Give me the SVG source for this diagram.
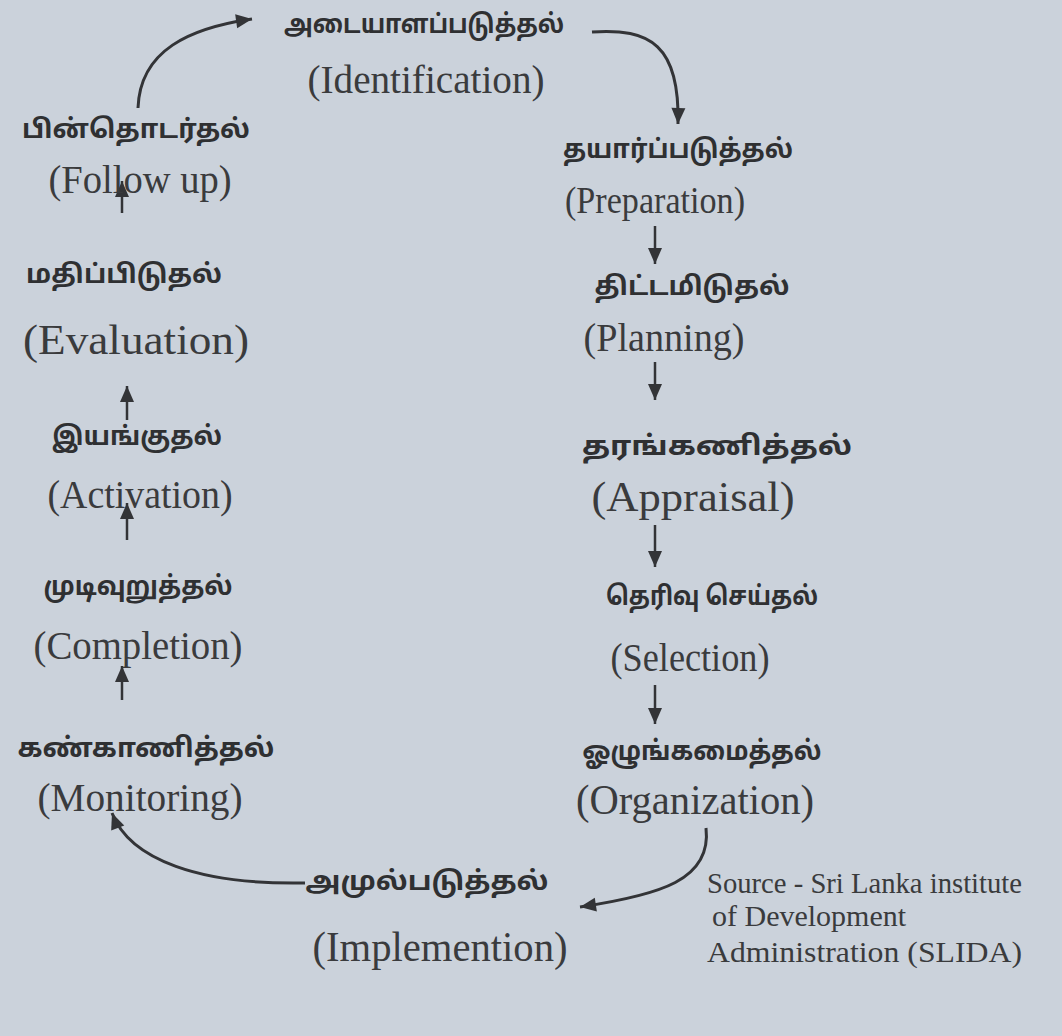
<svg xmlns="http://www.w3.org/2000/svg" width="1062" height="1036" viewBox="0 0 1062 1036">
<style>
.ta{font-family:"Noto Sans Tamil","Noto Sans","Liberation Sans",sans-serif;font-weight:bold;fill:#2f3032;text-anchor:middle}
.en{font-family:"Liberation Serif","Times New Roman",serif;fill:#3a3b3d;text-anchor:middle}
.src{font-family:"Liberation Serif","Times New Roman",serif;fill:#3a3b3d;font-size:30px}
.arr{stroke:#333437;stroke-width:2.5;fill:none;marker-end:url(#ah)}
.crv{stroke:#333437;stroke-width:3;fill:none;marker-end:url(#ah)}
</style>
<defs>
<marker id="ah" markerUnits="userSpaceOnUse" markerWidth="20" markerHeight="20" viewBox="0 0 20 20" refX="18" refY="10" orient="auto">
<path d="M2,3 L18,10 L2,17 Z" fill="#333437"/>
</marker>
</defs>
<rect width="1062" height="1036" fill="#cbd2db"/>
<g id="connectors">
<path class="crv" d="M138,108 C140,50 190,28 252,19"/>
<path class="crv" d="M592,32 C650,28 680,45 678,124"/>
<path class="arr" d="M655,226 L655,264"/>
<path class="arr" d="M655,362 L655,400"/>
<path class="arr" d="M655,525 L655,567"/>
<path class="arr" d="M655,685 L655,724"/>
<path class="crv" d="M706,828 C712,880 660,895 580,907"/>
<path class="crv" d="M305,883 C200,885 130,860 112,813"/>
<path class="arr" d="M122,700 L122,666"/>
<path class="arr" d="M127,540 L127,503"/>
<path class="arr" d="M127,420 L127,386"/>
<path class="arr" d="M122,213 L122,181"/>
</g>
<g id="identification">
<text class="ta" x="424" y="33" font-size="26" textLength="280" lengthAdjust="spacingAndGlyphs">அடையாளப்படுத்தல்</text>
<text class="en" x="426" y="93" font-size="40" textLength="237" lengthAdjust="spacingAndGlyphs">(Identification)</text>
</g>
<g id="preparation">
<text class="ta" x="678" y="158" font-size="26" textLength="230" lengthAdjust="spacingAndGlyphs">தயார்ப்படுத்தல்</text>
<text class="en" x="655" y="213" font-size="37" textLength="180" lengthAdjust="spacingAndGlyphs">(Preparation)</text>
</g>
<g id="planning">
<text class="ta" x="692" y="295" font-size="26" textLength="195" lengthAdjust="spacingAndGlyphs">திட்டமிடுதல்</text>
<text class="en" x="664" y="351" font-size="39" textLength="161" lengthAdjust="spacingAndGlyphs">(Planning)</text>
</g>
<g id="appraisal">
<text class="ta" x="717" y="455" font-size="27" textLength="270" lengthAdjust="spacingAndGlyphs">தரங்கணித்தல்</text>
<text class="en" x="693" y="511" font-size="43" textLength="203" lengthAdjust="spacingAndGlyphs">(Appraisal)</text>
</g>
<g id="selection">
<text class="ta" x="712" y="605" font-size="26" textLength="212" lengthAdjust="spacingAndGlyphs">தெரிவு செய்தல்</text>
<text class="en" x="690" y="671" font-size="39" textLength="159" lengthAdjust="spacingAndGlyphs">(Selection)</text>
</g>
<g id="organization">
<text class="ta" x="702" y="760" font-size="27" textLength="239" lengthAdjust="spacingAndGlyphs">ஓழுங்கமைத்தல்</text>
<text class="en" x="695" y="814" font-size="42" textLength="238" lengthAdjust="spacingAndGlyphs">(Organization)</text>
</g>
<g id="implementation">
<text class="ta" x="427" y="890" font-size="26" textLength="243" lengthAdjust="spacingAndGlyphs">அமுல்படுத்தல்</text>
<text class="en" x="440" y="961" font-size="42" textLength="255" lengthAdjust="spacingAndGlyphs">(Implemention)</text>
</g>
<g id="monitoring">
<text class="ta" x="146" y="757" font-size="27" textLength="257" lengthAdjust="spacingAndGlyphs">கண்காணித்தல்</text>
<text class="en" x="140" y="811" font-size="40" textLength="205" lengthAdjust="spacingAndGlyphs">(Monitoring)</text>
</g>
<g id="completion">
<text class="ta" x="138" y="595" font-size="26" textLength="189" lengthAdjust="spacingAndGlyphs">முடிவுறுத்தல்</text>
<text class="en" x="138" y="659" font-size="40" textLength="209" lengthAdjust="spacingAndGlyphs">(Completion)</text>
</g>
<g id="activation">
<text class="ta" x="137" y="445" font-size="26" textLength="170" lengthAdjust="spacingAndGlyphs">இயங்குதல்</text>
<text class="en" x="140" y="508" font-size="39" textLength="185" lengthAdjust="spacingAndGlyphs">(Activation)</text>
</g>
<g id="evaluation">
<text class="ta" x="124" y="283" font-size="26" textLength="196" lengthAdjust="spacingAndGlyphs">மதிப்பிடுதல்</text>
<text class="en" x="136" y="354" font-size="42" textLength="226" lengthAdjust="spacingAndGlyphs">(Evaluation)</text>
</g>
<g id="followup">
<text class="ta" x="136" y="138" font-size="26" textLength="228" lengthAdjust="spacingAndGlyphs">பின்தொடர்தல்</text>
<text class="en" x="140" y="193" font-size="39" textLength="183" lengthAdjust="spacingAndGlyphs">(Follow up)</text>
</g>
<g id="source">
<text class="src" x="707" y="893" textLength="315" lengthAdjust="spacingAndGlyphs">Source - Sri Lanka institute</text>
<text class="src" x="712" y="926">of Development</text>
<text class="src" x="707" y="962" textLength="315" lengthAdjust="spacingAndGlyphs">Administration (SLIDA)</text>
</g>
</svg>
